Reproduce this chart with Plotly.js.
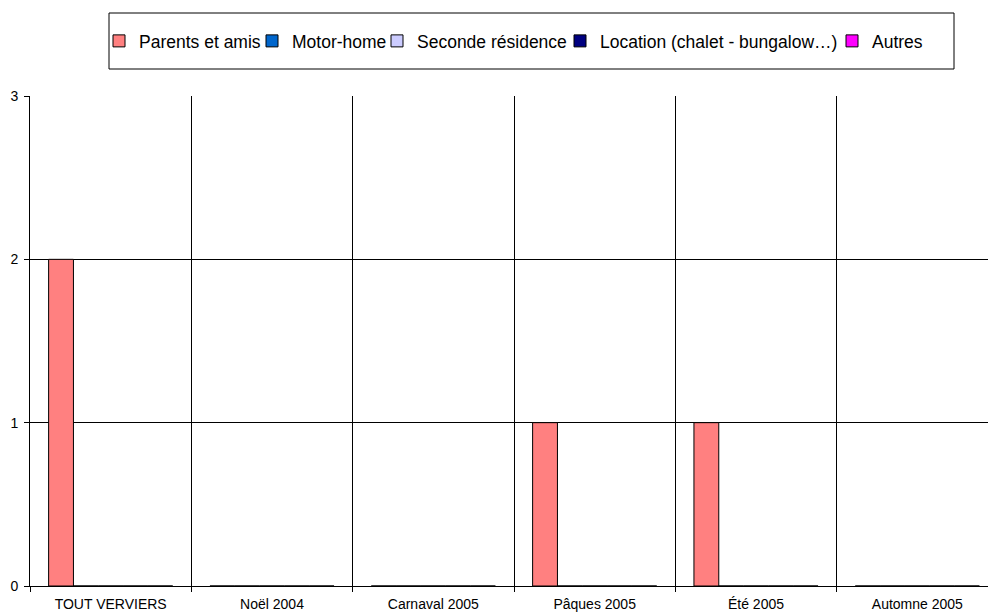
<!DOCTYPE html>
<html>
<head>
<meta charset="utf-8">
<script src="https://cdn.plot.ly/plotly-3.0.1.min.js"></script>
<style>
html,body{margin:0;padding:0;overflow:hidden;background:#fff;width:988px;height:614px;}
#chart{width:998px;height:614px;}
</style>
</head>
<body>
<div id="chart"></div>
<script>
const categories = ["TOUT VERVIERS", "Noël 2004", "Carnaval 2005", "Pâques 2005", "Été 2005", "Automne 2005"];
const seriesNames = ["Parents et amis", "Motor-home", "Seconde résidence", "Location (chalet - bungalow…)", "Autres"];
const parentsEtAmis = [2, 0, 0, 1, 1, 0];
const motorHome = [0, 0, 0, 0, 0, 0];
const secondeResidence = [0, 0, 0, 0, 0, 0];
const locationChalet = [0, 0, 0, 0, 0, 0];
const autres = [0, 0, 0, 0, 0, 0];
const seriesValues = [parentsEtAmis, motorHome, secondeResidence, locationChalet, autres];
const seriesColors = ["#FF8080", "#0066CC", "#CCCCFF", "#000080", "#FF00FF"];
const yTicks = [0, 1, 2, 3];

const plotTop = 96, plotBottom = 586, plotLeft = 30, plotW = 968;
const ph = plotBottom - plotTop;
// legend entry text start positions (px, page coordinates)
const legendTextStart = [134, 287, 412, 595, 867];
const legendKeys = ["legend", "legend2", "legend3", "legend4", "legend5"];

const traces = seriesNames.map((name, i) => ({
  type: "bar",
  name: name,
  x: categories,
  y: seriesValues[i],
  legend: legendKeys[i],
  marker: {color: seriesColors[i], line: {color: "#000", width: 1}},
  hoverinfo: "none"
}));

const layout = {
  width: 998, height: 614,
  margin: {l: plotLeft, r: 0, t: plotTop, b: 614 - plotBottom, pad: 0},
  paper_bgcolor: "#fff", plot_bgcolor: "#fff",
  font: {family: "Liberation Sans, Arial, sans-serif", color: "#000", size: 14},
  barmode: "group",
  bargap: 1.5/6.5,
  bargroupgap: 0,
  showlegend: true,
  shapes: [{
    type: "rect", xref: "paper", yref: "paper",
    x0: (109 - plotLeft) / plotW, x1: (954 - plotLeft) / plotW,
    y0: (plotBottom - 69) / ph, y1: (plotBottom - 13) / ph,
    line: {color: "#000", width: 1}, fillcolor: "rgba(0,0,0,0)", layer: "above"
  }],
  xaxis: {
    type: "category",
    tickson: "boundaries",
    showgrid: true, gridcolor: "#000", gridwidth: 1,
    showline: true, linecolor: "#000", linewidth: 1,
    ticks: "outside", ticklen: 5, tickcolor: "#000",
    ticklabelstandoff: 5,
    tickfont: {size: 14},
    fixedrange: true
  },
  yaxis: {
    range: [0, 3],
    tickvals: yTicks,
    ticktext: yTicks.map(String),
    showgrid: true, gridcolor: "#000", gridwidth: 1,
    showline: true, linecolor: "#000", linewidth: 1,
    ticks: "outside", ticklen: 5, tickcolor: "#000",
    ticklabelstandoff: 3,
    tickfont: {size: 14},
    zeroline: false,
    fixedrange: true
  }
};

legendKeys.forEach((k, i) => {
  layout[k] = {
    orientation: "h",
    x: (legendTextStart[i] + 5 - 40 - plotLeft) / plotW, xanchor: "left",
    y: (plotBottom - 41) / ph, yanchor: "middle",
    font: {size: 17.5, family: "Liberation Sans, Arial, sans-serif"},
    bgcolor: "rgba(0,0,0,0)", borderwidth: 0,
    itemwidth: 30
  };
});

Plotly.newPlot("chart", traces, layout, {displayModeBar: false, staticPlot: true});
</script>
</body>
</html>
